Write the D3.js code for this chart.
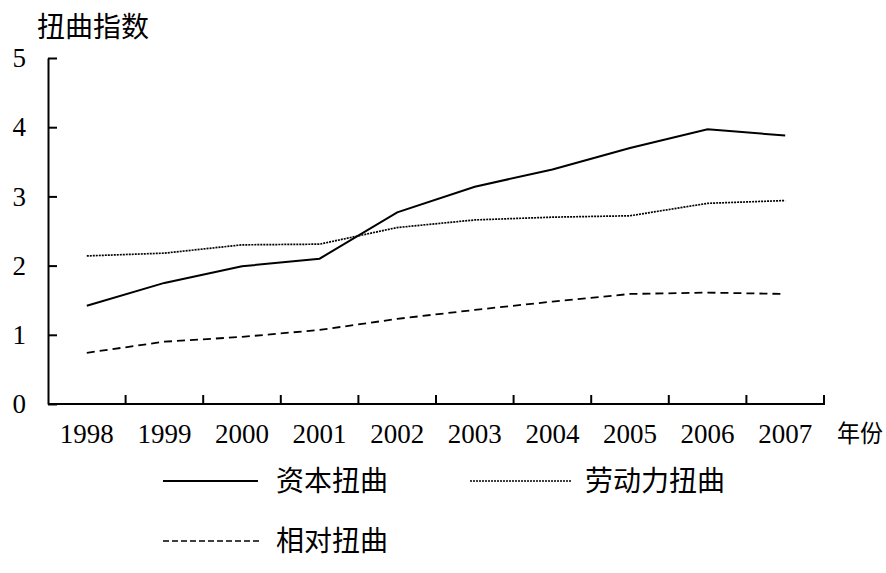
<!DOCTYPE html>
<html><head><meta charset="utf-8">
<script src="https://cdn.jsdelivr.net/npm/d3@7"></script>
<style>body{margin:0;background:#fff}svg{display:block}</style>
</head><body><svg id="c" width="886" height="573"></svg>
<script>
const years = ["1998","1999","2000","2001","2002","2003","2004","2005","2006","2007"];
const capital = [1.42,1.75,1.99,2.10,2.77,3.14,3.39,3.70,3.97,3.88];
const labor = [2.14,2.18,2.30,2.31,2.55,2.66,2.70,2.72,2.90,2.94];
const relative = [0.74,0.90,0.97,1.07,1.23,1.36,1.48,1.59,1.61,1.59];
const yTicks = [0,1,2,3,4,5];
const seriesNames = ["资本扭曲","劳动力扭曲","相对扭曲"];
const yTitle = "扭曲指数";
const xTitle = "年份";

const svg = d3.select("#c");
const serif = "'Liberation Serif','Times New Roman',serif";
const cjk = "'Noto Sans CJK SC',sans-serif";
const x = d3.scaleBand().domain(years).range([48,824]);
const y = d3.scaleLinear().domain([0,5]).range([404,58]);

const gx = svg.append("g").attr("transform","translate(0,404)")
  .call(d3.axisBottom(x).tickSize(0).tickSizeOuter(0).tickPadding(20));
const gy = svg.append("g").attr("transform","translate(48,0)")
  .call(d3.axisLeft(y).tickValues(yTicks).tickSize(-9).tickSizeOuter(0).tickFormat(d3.format("d")).tickPadding(22));
gx.selectAll(".tick line").remove();
gx.select(".domain").remove();
svg.append("line").attr("x1",48).attr("x2",825).attr("y1",404).attr("y2",404).attr("stroke","#000").attr("stroke-width",2);
const bounds = years.map(d=>x(d)+x.bandwidth());
svg.append("g").selectAll("line").data(bounds).join("line")
  .attr("x1",d=>d).attr("x2",d=>d).attr("y1",404).attr("y2",395)
  .attr("stroke","#000").attr("stroke-width",2);
gy.select(".domain").attr("stroke-width",2);
gy.selectAll(".tick line").attr("stroke-width",2);
[gx,gy].forEach(g=>g.selectAll("text").attr("font-family",serif).attr("font-size",27).attr("fill","#000"));
gy.selectAll("text").attr("dy","0.32em");
gx.selectAll("text").attr("dy","0.71em");

svg.append("text").attr("x",37).attr("y",37).attr("font-family",cjk).attr("font-size",28).text(yTitle);
svg.append("text").attr("x",837).attr("y",442).attr("font-family",cjk).attr("font-size",24)
  .attr("textLength",46).attr("lengthAdjust","spacingAndGlyphs").text(xTitle);

const styles = [
  {w:2, dash:null},
  {w:1.7, dash:"2,1"},
  {w:1.8, dash:"8,5"}
];
const data = [capital, labor, relative];
const line = d3.line().x((d,i)=>x(years[i])+x.bandwidth()/2).y(d=>y(d));
data.forEach((s,k)=>{
  svg.append("path").datum(s).attr("d",line).attr("fill","none")
    .attr("stroke","#000").attr("stroke-width",styles[k].w)
    .attr("stroke-dasharray",styles[k].dash);
});

const leg = [
  {x1:163,x2:258,y:481,tx:276},
  {x1:470,x2:571,y:481,tx:585},
  {x1:163,x2:259,y:541,tx:276}
];
const legDash=[null,"2,1","6,3"];
leg.forEach((l,k)=>{
  svg.append("line").attr("x1",l.x1).attr("x2",l.x2).attr("y1",l.y).attr("y2",l.y)
    .attr("stroke","#000").attr("stroke-width",k===0?2:1.7).attr("stroke-dasharray",legDash[k]);
  svg.append("text").attr("x",l.tx).attr("y",l.y+10).attr("font-family",cjk).attr("font-size",28).text(seriesNames[k]);
});
</script></body></html>
